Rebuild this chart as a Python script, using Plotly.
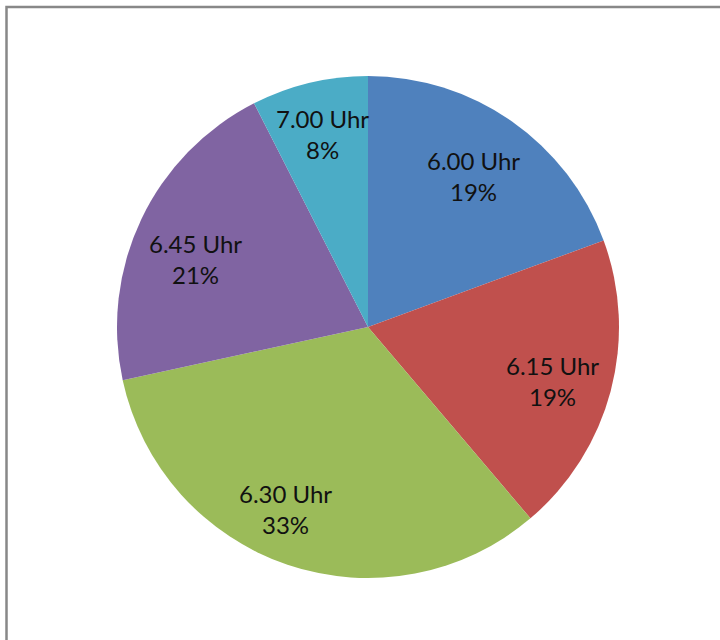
import math
import plotly.graph_objects as go

labels = ["6.00 Uhr", "6.15 Uhr", "6.30 Uhr", "6.45 Uhr", "7.00 Uhr"]
values = [19.4, 19.4, 32.8, 20.9, 7.5]
colors = ["#4F81BD", "#C0504D", "#9BBB59", "#8064A2", "#4BACC6"]

# small pixel nudges of the data labels (Excel "best fit" placement)
label_nudge = [(-5, -7), (-2, -5), (-20, 1), (2, -15), (0, 5)]

W, H = 720, 640
cx, cy_top, R = 368, 327, 251
cy = H - cy_top

fig = go.Figure(go.Pie(
    labels=labels, values=values, sort=False, direction="clockwise", rotation=0,
    marker=dict(colors=colors, line=dict(width=0)),
    textinfo="none", hoverinfo="label+percent", showlegend=False,
    domain=dict(x=[(cx - R) / W, (cx + R) / W], y=[(cy - R) / H, (cy + R) / H]),
))

total = sum(values)
cum = 0
frac = 0.77
for lab, v, (nx, ny) in zip(labels, values, label_nudge):
    mid = (cum + v / 2) / total * 2 * math.pi
    cum += v
    x = cx + R * frac * math.sin(mid)
    y = cy + R * frac * math.cos(mid)
    pct = int(v / total * 100 + 0.5)
    fig.add_annotation(x=x / W, y=y / H, xref="paper", yref="paper",
                       text=f"{lab}<br>{pct}%", showarrow=False,
                       xshift=nx, yshift=ny,
                       font=dict(family="Lato", size=24, color="#111111"),
                       xanchor="center", yanchor="middle")

fig.add_shape(type="rect", xref="paper", yref="paper",
              x0=6.5 / W, x1=1.05, y0=-0.05, y1=(H - 7) / H,
              line=dict(color="#888888", width=2.5), fillcolor="rgba(0,0,0,0)")

fig.update_layout(width=W, height=H, margin=dict(l=0, r=0, t=0, b=0),
                  paper_bgcolor="white", plot_bgcolor="white")

fig.write_html("out.html", config={"displayModeBar": False},
               post_script="document.body.style.margin='0';document.body.style.overflow='hidden';")
